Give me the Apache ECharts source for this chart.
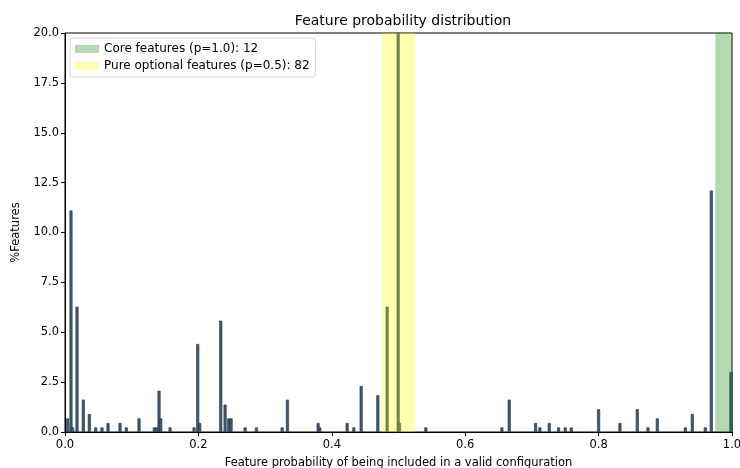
<!DOCTYPE html>
<html>
<head>
<meta charset="utf-8">
<script src="https://cdn.jsdelivr.net/npm/echarts@6/dist/echarts.min.js"></script>
<style>
html,body{margin:0;padding:0;background:#fff;}
#chart{width:740px;height:468px;}
</style>
</head>
<body>
<div id="chart"></div>
<script>
// feature probability (bin position) and % of features in that bin
var probs=[0.004,0.009,0.0115,0.018,0.0275,0.0365,0.046,0.0555,0.0645,0.0825,0.092,0.111,
  0.134,0.1375,0.141,0.1435,0.1575,0.1935,0.199,0.202,0.2335,0.24,0.2455,0.249,0.27,0.287,
  0.3255,0.3335,0.3795,0.382,0.423,0.433,0.444,0.469,0.483,0.4995,0.5015,0.541,0.655,0.666,
  0.7055,0.712,0.726,0.74,0.75,0.759,0.8,0.832,0.858,0.874,0.888,0.93,0.9405,0.96,0.969,0.9985];
var pcts=[0.68,11.1,0.23,6.28,1.62,0.9,0.23,0.23,0.45,0.45,0.23,0.68,
  0.23,0.23,2.07,0.68,0.23,0.23,4.41,0.45,5.58,1.37,0.68,0.68,0.23,0.23,
  0.23,1.62,0.45,0.23,0.45,0.23,2.31,1.84,6.28,20.5,0.45,0.23,0.23,1.62,
  0.45,0.23,0.45,0.23,0.23,0.23,1.14,0.45,1.14,0.23,0.68,0.23,0.9,0.23,12.1,3.0];
var coreBand=[0.975,1.0];
var optionalBand=[0.475,0.525];
var coreLabel='Core features (p=1.0): 12';
var optionalLabel='Pure optional features (p=0.5): 82';

var FONT='DejaVu Sans';
var chart=echarts.init(document.getElementById('chart'));
var barData=probs.map(function(p,i){return [p,pcts[i]];});

chart.setOption({
  animation:false,
  textStyle:{fontFamily:FONT},
  title:{text:'Feature probability distribution',left:398,top:9,textAlign:'center',
    textStyle:{fontFamily:FONT,fontSize:14,fontWeight:'normal',color:'#000'}},
  legend:{orient:'vertical',left:70,top:38,itemWidth:24,itemHeight:8,itemGap:5,
    padding:[5,6,5,5],backgroundColor:'rgba(255,255,255,0.8)',borderColor:'#d6d6d6',borderWidth:1,borderRadius:3,
    icon:'rect',textStyle:{fontFamily:FONT,fontSize:12,color:'#000'},
    data:[coreLabel,optionalLabel]},
  grid:{left:65,right:8,top:33,bottom:36,outerBoundsMode:'none',containLabel:false,
    show:true,borderColor:'#000',borderWidth:1,backgroundColor:'transparent'},
  xAxis:{type:'value',min:0,max:1,interval:0.2,
    name:'Feature probability of being included in a valid configuration',nameLocation:'middle',nameGap:25,
    nameTextStyle:{fontFamily:FONT,fontSize:11.5,color:'#000'},
    axisLine:{show:true,lineStyle:{color:'#000'}},
    axisTick:{show:true,length:4,lineStyle:{color:'#000'}},
    axisLabel:{fontFamily:FONT,fontSize:11.5,color:'#000',margin:7,formatter:function(v){return v.toFixed(1);}},
    splitLine:{show:false}},
  yAxis:{type:'value',min:0,max:20,interval:2.5,
    name:'%Features',nameLocation:'middle',nameGap:42,
    nameTextStyle:{fontFamily:FONT,fontSize:11.5,color:'#000'},
    axisLine:{show:true,lineStyle:{color:'#000'}},
    axisTick:{show:true,length:4,lineStyle:{color:'#000'}},
    axisLabel:{fontFamily:FONT,fontSize:11.5,color:'#000',margin:6,formatter:function(v){return v.toFixed(1);}},
    splitLine:{show:false}},
  series:[
    {type:'bar',name:'hist',data:barData,barWidth:3,clip:true,z:2,
      itemStyle:{color:'#3e5b75',borderColor:'#22313f',borderWidth:0.6}},
    {type:'line',name:coreLabel,data:[],z:5,
      itemStyle:{color:'rgba(0,128,0,0.3)'},lineStyle:{color:'rgba(0,128,0,0.3)'},
      markArea:{silent:true,z:10,itemStyle:{color:'rgba(0,128,0,0.3)'},
        data:[[{xAxis:coreBand[0]},{xAxis:coreBand[1]}]]}},
    {type:'line',name:optionalLabel,data:[],z:5,
      itemStyle:{color:'rgba(255,255,0,0.3)'},lineStyle:{color:'rgba(255,255,0,0.3)'},
      markArea:{silent:true,z:10,itemStyle:{color:'rgba(255,255,0,0.3)'},
        data:[[{xAxis:optionalBand[0]},{xAxis:optionalBand[1]}]]}}
  ]
});
</script>
</body>
</html>
